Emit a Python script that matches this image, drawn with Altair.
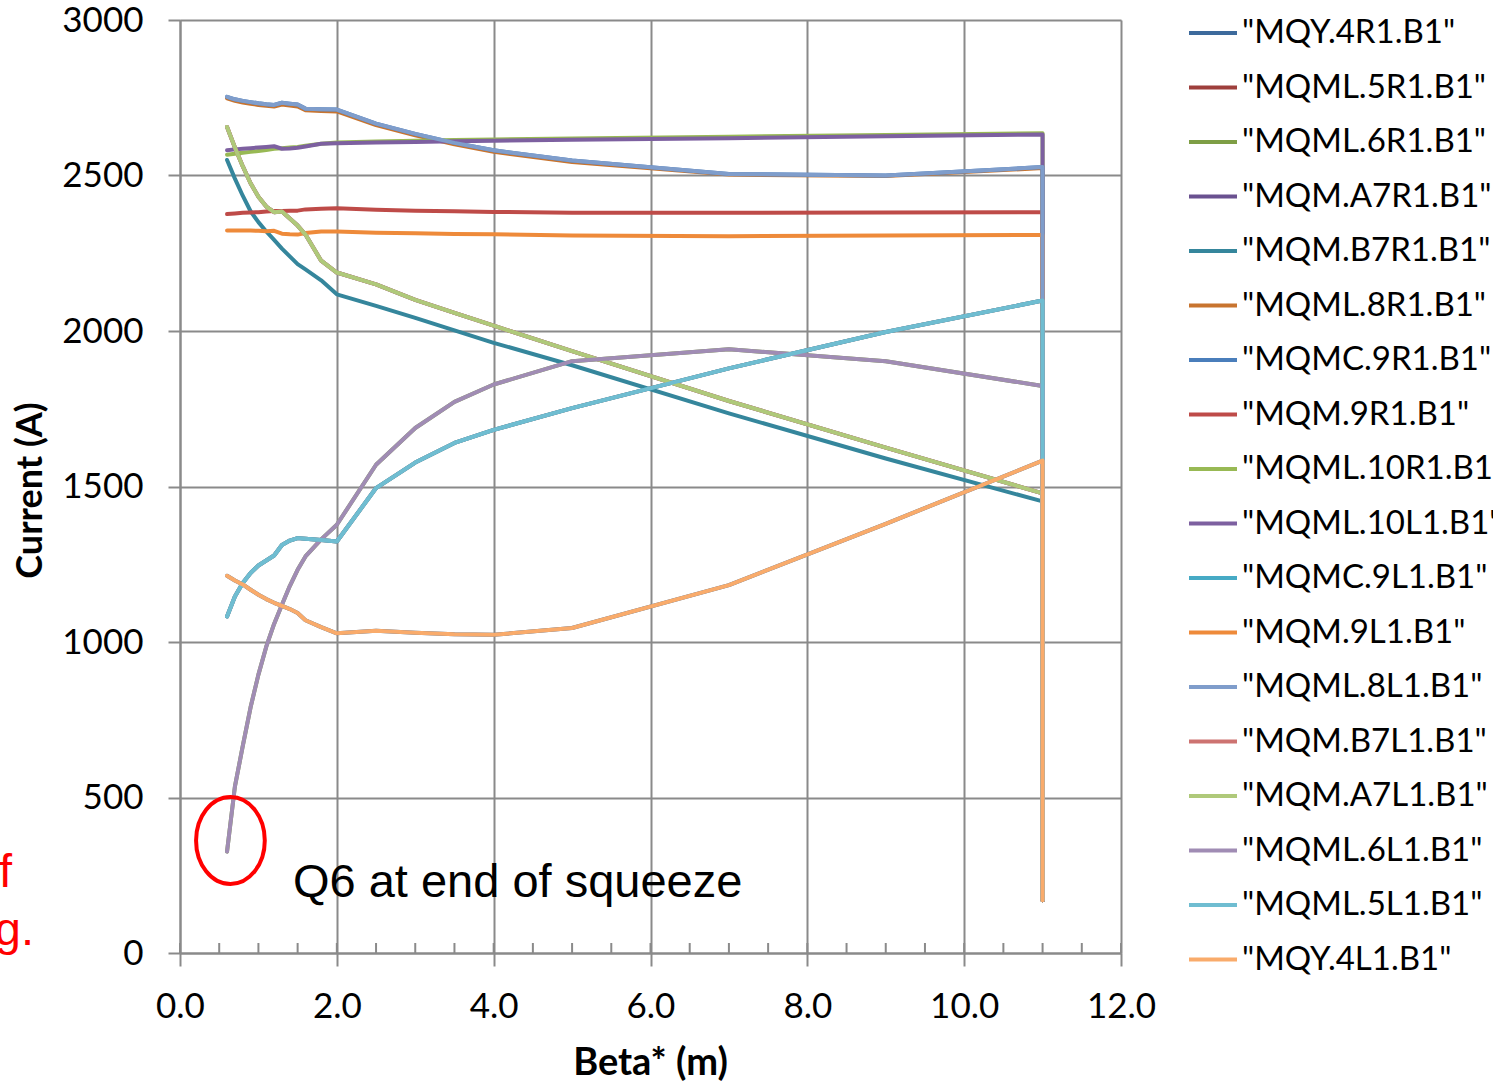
import altair as alt
import pandas as pd

beta = [0.6, 0.7, 0.8, 0.9, 1.0, 1.1, 1.2, 1.3, 1.4, 1.5, 1.6, 1.8, 2.0, 2.5,
        3.0, 3.5, 4.0, 5.0, 7.0, 9.0, 11.0, 11.0]

series_names = ['"MQY.4R1.B1"', '"MQML.5R1.B1"', '"MQML.6R1.B1"', '"MQM.A7R1.B1"',
                '"MQM.B7R1.B1"', '"MQML.8R1.B1"', '"MQMC.9R1.B1"', '"MQM.9R1.B1"',
                '"MQML.10R1.B1"', '"MQML.10L1.B1"', '"MQMC.9L1.B1"', '"MQM.9L1.B1"',
                '"MQML.8L1.B1"', '"MQM.B7L1.B1"', '"MQM.A7L1.B1"', '"MQML.6L1.B1"',
                '"MQML.5L1.B1"', '"MQY.4L1.B1"']

colors = ["#3D6A9C", "#9E3F3C", "#7E9E45", "#6A5190", "#35869C", "#C8742F",
          "#4A7EBB", "#BE4B48", "#98B954", "#7D60A0", "#46AAC5", "#EE8A3A",
          "#7F9DCB", "#CD7371", "#AFC97A", "#A08CB4", "#6FBDD1", "#F9AB6B"]

q8 = [2753, 2745, 2740, 2736, 2732, 2729, 2727, 2734, 2731, 2728, 2715, 2713, 2712, 2667,
      2634, 2605, 2581, 2548, 2505, 2500, 2527, 170]
q8r = [2748, 2740, 2735, 2731, 2727, 2724, 2722, 2728, 2725, 2722, 2710, 2707, 2706, 2662,
       2629, 2600, 2576, 2543, 2503, 2498, 2524, 170]
q10g = [2567, 2570, 2573, 2576, 2579, 2582, 2586, 2588, 2590, 2592, 2596, 2602, 2606, 2609,
        2612, 2614, 2616, 2619, 2625, 2630, 2636, 170]
q10p = [2581, 2584, 2586, 2588, 2590, 2592, 2594, 2586, 2587, 2589, 2593, 2602, 2604, 2606,
        2608, 2610, 2612, 2615, 2620, 2626, 2632, 170]
q7b = [2550, 2490, 2435, 2385, 2350, 2320, 2293, 2265, 2240, 2215, 2198, 2163, 2118, 2081,
       2042, 2002, 1962, 1890, 1735, 1590, 1452, 170]
q7a = [2656, 2590, 2530, 2475, 2432, 2400, 2382, 2384, 2362, 2339, 2310, 2226, 2188, 2150,
       2100, 2058, 2017, 1935, 1775, 1625, 1478, 170]
q9r = [2376, 2378, 2380, 2381, 2382, 2384, 2386, 2386, 2387, 2387, 2391, 2393, 2395, 2390,
       2387, 2385, 2383, 2380, 2380, 2381, 2382, 170]
q9l = [2323, 2323, 2323, 2323, 2322, 2321, 2322, 2313, 2311, 2310, 2315, 2320, 2320, 2316,
       2314, 2312, 2311, 2307, 2305, 2307, 2309, 170]
q6 = [326, 535, 665, 790, 895, 985, 1058, 1120, 1180, 1232, 1275, 1330, 1377, 1570,
      1688, 1772, 1828, 1903, 1941, 1903, 1823, 170]
q5 = [1082, 1146, 1190, 1222, 1246, 1262, 1278, 1312, 1326, 1334, 1332, 1328, 1323, 1495,
      1577, 1640, 1682, 1752, 1880, 1997, 2098, 170]
q4 = [1213, 1198, 1185, 1168, 1152, 1138, 1126, 1116, 1106, 1093, 1070, 1048, 1028, 1036,
      1030, 1025, 1023, 1045, 1183, 1380, 1583, 170]

series_values = [q4, q5, q6, q7a, q7b, q8r, q8, q9r, q10g, q10p, q5, q9l,
                 q8, q7a, q7a, q6, q5, q4]

minor_ticks = [i * 0.5 for i in range(25)]
x_ticks = [0, 2, 4, 6, 8, 10, 12]
y_ticks = [0, 500, 1000, 1500, 2000, 2500, 3000]

rows = []
for s_idx, (name, vals) in enumerate(zip(series_names, series_values)):
    for p_idx, (b, v) in enumerate(zip(beta, vals)):
        rows.append({"series": name, "sidx": s_idx, "idx": p_idx, "beta": b, "current": v})
df = pd.DataFrame(rows)

W, H = 941, 933
GRID = "#8A8A8A"

xscale = alt.Scale(domain=[0, 12], nice=False, zero=False)
yscale = alt.Scale(domain=[0, 3000], nice=False)

lines = alt.Chart(df).mark_line(strokeWidth=4, strokeJoin="round", strokeCap="round").encode(
    x=alt.X("beta:Q", scale=xscale,
            axis=alt.Axis(values=x_ticks, format=".1f", title="Beta* (m)",
                          grid=True, gridColor=GRID, gridWidth=2, labelFlush=False,
                          domainColor=GRID, domainWidth=2, tickColor=GRID, tickWidth=2,
                          tickSize=13, labelFont="Lato", labelFontSize=35, labelColor="#000",
                          labelPadding=23, titleFont="Lato", titleFontSize=38,
                          titleFontWeight="bold", titleColor="#000",
                          titleX=470, titleY=110, titleBaseline="middle")),
    y=alt.Y("current:Q", scale=yscale,
            axis=alt.Axis(values=y_ticks, format="d", title="Current (A)",
                          grid=True, gridColor=GRID, gridWidth=2, labelFlush=False,
                          domainColor=GRID, domainWidth=2, tickColor=GRID, tickWidth=2,
                          tickSize=12, labelFont="Lato", labelFontSize=35, labelColor="#000",
                          labelPadding=25, titleFont="Lato", titleFontSize=36,
                          titleFontWeight="bold", titleColor="#000",
                          titleX=-150, titleY=470, titleAngle=-90, titleBaseline="middle",
                          titleAlign="center")),
    color=alt.Color("series:N", scale=alt.Scale(domain=series_names, range=colors),
                    legend=alt.Legend(orient="none", legendX=1007, legendY=-13, title=None,
                                      symbolType="stroke", symbolSize=2304,
                                      symbolStrokeWidth=4, labelFont="Lato",
                                      labelFontSize=33, labelColor="#000", labelLimit=0,
                                      labelOffset=3, rowPadding=11.5, padding=0,
                                      symbolLimit=0)),
    order=alt.Order("idx:Q"),
    detail="sidx:N",
)

minor = alt.Chart(pd.DataFrame({"t": minor_ticks})).mark_rule(color=GRID, strokeWidth=2).encode(
    x=alt.X("t:Q", scale=xscale), y=alt.value(H - 10), y2=alt.value(H)
)

ell_path = "M -0.79 0 A 0.79 1 0 1 0 0.79 0 A 0.79 1 0 1 0 -0.79 0 Z"
ellipse = alt.Chart(pd.DataFrame({"beta": [0.643], "current": [362]})).mark_point(
    shape=ell_path, size=87 * 87, filled=False, stroke="#FF0000", strokeWidth=4, opacity=1
).encode(x=alt.X("beta:Q", scale=xscale), y=alt.Y("current:Q", scale=yscale))

note = alt.Chart(pd.DataFrame({"beta": [1.44], "current": [180], "label": ["Q6 at end of squeeze"]})).mark_text(
    align="left", baseline="alphabetic", font="Liberation Sans", fontSize=47, color="#000"
).encode(x=alt.X("beta:Q", scale=xscale), y=alt.Y("current:Q", scale=yscale), text="label:N")

red_f = alt.Chart(pd.DataFrame({"label": ["f"]})).mark_text(
    align="left", baseline="alphabetic", font="Liberation Sans", fontSize=47, color="#FF0000"
).encode(x=alt.value(-181), y=alt.value(867), text="label:N")

red_g = alt.Chart(pd.DataFrame({"label": ["g."]})).mark_text(
    align="right", baseline="alphabetic", font="Liberation Sans", fontSize=47, color="#FF0000"
).encode(x=alt.value(-146), y=alt.value(925), text="label:N")

chart = alt.layer(minor, lines, ellipse, note, red_f, red_g).properties(
    width=W, height=H,
    padding={"left": 180, "top": 20, "right": 372, "bottom": 131},
    autosize=alt.AutoSizeParams(type="none"),
).configure_view(stroke=None).configure(background="white")

chart.save("out.html", embed_options={"renderer": "svg", "actions": False})
